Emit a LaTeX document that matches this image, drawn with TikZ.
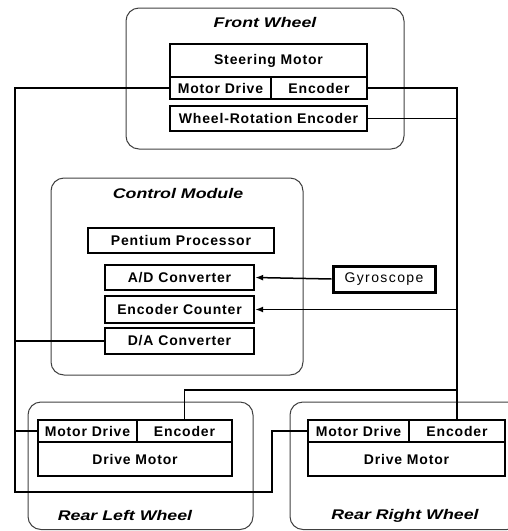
\documentclass[tikz,border=0pt]{standalone}
\usepackage{fontspec}
\usetikzlibrary{arrows.meta}
\newfontfamily\lblfont[LetterSpace=6]{Liberation Sans}
\newfontfamily\gyrofont[LetterSpace=10]{Liberation Sans}
\newfontfamily\ttlfont[FakeStretch=1.27]{Liberation Sans}
\begin{document}
\begin{tikzpicture}[x=1pt,y=-1pt,
  part/.style={draw, line width=2.4pt, inner sep=0pt, font=\lblfont\bfseries\fontsize{14}{16}\selectfont},
  group/.style={draw=black!75, line width=1pt, rounded corners=13pt},
  title/.style={font=\ttlfont\bfseries\itshape\fontsize{14}{16}\selectfont},
  wire/.style={line width=1.5pt},
  arrow/.style={line width=1.5pt, -{Latex[length=8pt,width=6pt]}}]
\useasboundingbox (0,0) rectangle (507,531);
\coordinate (railL) at (15,0); \coordinate (cornerBL) at (15,492); \coordinate (cornerBR) at (272,492); \coordinate (tapR) at (457,390);
% groups
\draw[group] (126,8) rectangle (404,149);
\draw[group] (51,178) rectangle (303,375);
\draw[group] (28,402) rectangle (253,529.5);
\draw[group] (290,402) rectangle (520,529.5);
\node[title] (tfront) at (265,22) {Front Wheel};
\node[title] (tctrl) at (178,193) {Control Module};
\node[title] (trl) at (125,515) {Rear Left Wheel};
\node[title] (trr) at (405,516) {Rear Right Wheel};
% front wheel
\node[part, minimum width=197pt, minimum height=33pt] (steer) at (268.5,60.5) {Steering Motor};
\node[part, minimum width=101pt, minimum height=22pt] (fmd) at (220.5,88) {Motor Drive};
\node[part, minimum width=96pt, minimum height=22pt] (fenc) at (319,88) {Encoder};
\node[part, minimum width=197pt, minimum height=25pt] (wre) at (268.5,118.5) {Wheel-Rotation Encoder};
% control module
\node[part, line width=1.8pt, minimum width=186pt, minimum height=25pt] (cpu) at (181,240.5) {Pentium Processor};
\node[part, minimum width=149pt, minimum height=25pt] (ad) at (179.5,277.5) {A/D Converter};
\node[part, minimum width=149pt, minimum height=27pt] (ec) at (179.5,309.5) {Encoder Counter};
\node[part, minimum width=149pt, minimum height=26pt] (da) at (179.5,341) {D/A Converter};
\node[part, line width=3pt, font=\gyrofont\fontsize{14}{16}\selectfont, minimum width=102pt, minimum height=26pt] (gyro) at (384,279) {Gyroscope};
% rear wheels
\node[part, minimum width=99pt, minimum height=22pt] (rlmd) at (87.5,431) {Motor Drive};
\node[part, minimum width=95pt, minimum height=22pt] (rlenc) at (184.5,431) {Encoder};
\node[part, minimum width=194pt, minimum height=34pt] (rldm) at (135,459) {Drive Motor};
\node[part, minimum width=101pt, minimum height=22pt] (rrmd) at (358.5,431) {Motor Drive};
\node[part, minimum width=96pt, minimum height=22pt] (rrenc) at (457,431) {Encoder};
\node[part, minimum width=197pt, minimum height=34pt] (rrdm) at (406.5,459) {Drive Motor};
% wiring
\draw[wire] (fmd.west) -| (cornerBL) -- (cornerBR) |- (rrmd.west);
\draw[wire] (da.west) -- (da.west -| railL);
\draw[wire] (rlmd.west) -- (rlmd.west -| railL);
\draw[wire] (fenc.east) -| (rrenc.north);
\draw[wire] (wre.east) -- (wre.east -| rrenc.north);
\draw[wire] (rlenc.north) |- (tapR);
\draw[arrow] (ec.east -| rrenc.north) -- (ec.east);
\draw[arrow] (gyro.west) -- (ad.east);
\end{tikzpicture}
\end{document}
